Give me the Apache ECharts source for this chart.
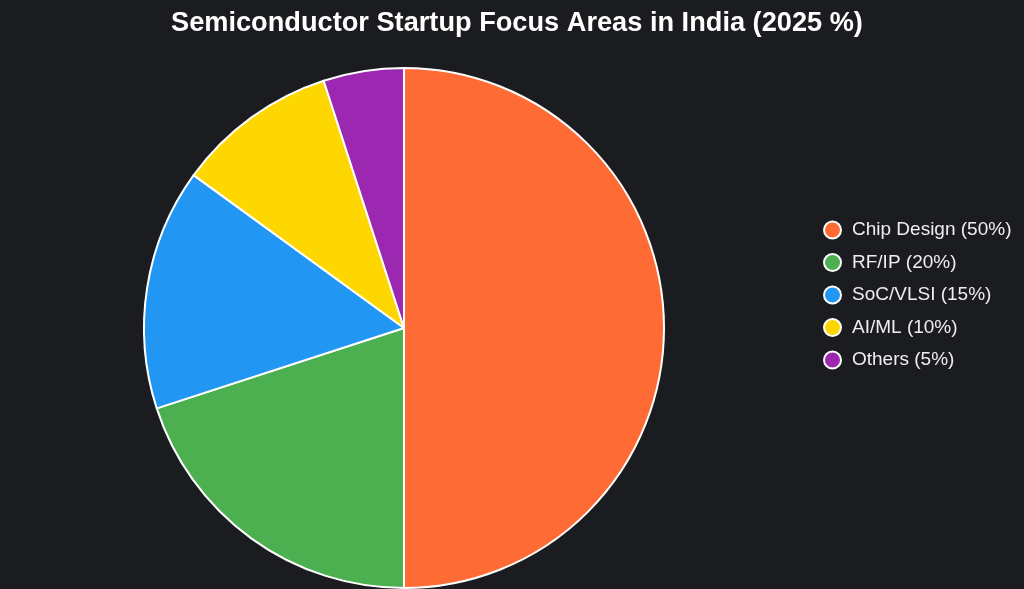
<!DOCTYPE html>
<html><head><meta charset="utf-8">
<script src="https://cdn.jsdelivr.net/npm/echarts@6/dist/echarts.min.js"></script>
<style>html,body{margin:0;padding:0;background:#1b1c20;}#c{width:1024px;height:589px;}</style>
</head><body><div id="c"></div>
<script>
const categories = ['Chip Design (50%)', 'RF/IP (20%)', 'SoC/VLSI (15%)', 'AI/ML (10%)', 'Others (5%)'];
const values = [50, 20, 15, 10, 5];
const colors = ['#FF6B35', '#4CAF50', '#2196F3', '#FFD700', '#9C27B0'];
const chart = echarts.init(document.getElementById('c'));
chart.setOption({
  backgroundColor: '#1b1c20',
  animation: false,
  title: {
    text: 'Semiconductor Startup Focus Areas in India (2025 %)',
    left: 166, top: 5,
    textStyle: { color: '#ffffff', fontSize: 27.2, fontWeight: 'bold', fontFamily: 'Liberation Sans, Arial, sans-serif' }
  },
  legend: {
    orient: 'vertical', left: 818, top: 215.5,
    icon: 'circle', itemWidth: 17, itemHeight: 17, itemGap: 13.5,
    itemStyle: { borderColor: '#ffffff', borderWidth: 2 },
    textStyle: { color: '#eeeeee', fontSize: 19, lineHeight: 19, fontFamily: 'Liberation Sans, Arial, sans-serif', padding: [0,0,0,6] },
    data: categories
  },
  series: [{
    type: 'pie',
    center: [404, 328], radius: 260,
    startAngle: 90, clockwise: true,
    label: { show: false }, labelLine: { show: false },
    itemStyle: { borderColor: '#ffffff', borderWidth: 2 },
    emphasis: { disabled: true },
    data: categories.map((n, i) => ({ name: n, value: values[i], itemStyle: { color: colors[i] } }))
  }]
});
</script></body></html>
